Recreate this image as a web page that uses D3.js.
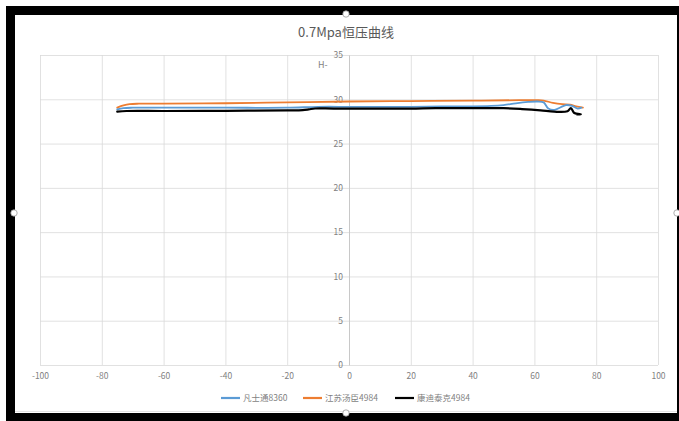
<!DOCTYPE html>
<html>
<head>
<meta charset="utf-8">
<script src="https://cdn.jsdelivr.net/npm/d3@7"></script>
<style>
  html, body { margin: 0; padding: 0; background: #ffffff; }
  svg { display: block; }
  text { font-family: "Noto Sans CJK SC", "Noto Sans", "DejaVu Sans", sans-serif; }
</style>
</head>
<body>
<svg id="chart" width="679" height="421"></svg>
<script>
// Chart title and series names
const chartTitle = "0.7Mpa恒压曲线";
const seriesNames = ["凡士通8360", "江苏汤臣4984", "康迪泰克4984"];
const seriesColors = ["#5B9BD5", "#ED7D31", "#000000"];

// Axis ticks
const xTicks = [-100, -80, -60, -40, -20, 0, 20, 40, 60, 80, 100];
const xTickLabels = ["-100", "-80", "-60", "-40", "-20", "0", "20", "40", "60", "80", "100"];
const yTicks = [0, 5, 10, 15, 20, 25, 30, 35];

// 凡士通8360
const blueX = [-75, -73, -70, -60, -40, -20, -10, 0, 10, 20, 30, 40, 46, 50, 54, 58, 61, 63, 64.5, 66.5, 68.5, 70.2, 72.2, 74, 75.2];
const blueY = [28.85, 29.0, 29.05, 29.05, 29.05, 29.05, 29.15, 29.15, 29.15, 29.15, 29.2, 29.2, 29.25, 29.35, 29.55, 29.7, 29.75, 29.65, 28.95, 28.8, 29.1, 29.35, 29.25, 28.95, 29.05];

// 江苏汤臣4984
const orangeX = [-75, -73, -71, -68, -60, -40, -20, 0, 20, 40, 55, 61, 63, 66, 69, 71.5, 73.5, 75.7];
const orangeY = [29.05, 29.3, 29.45, 29.5, 29.5, 29.55, 29.65, 29.75, 29.8, 29.85, 29.9, 29.9, 29.85, 29.6, 29.45, 29.4, 29.2, 29.05];

// 康迪泰克4984
const blackX = [-75, -72, -60, -40, -20, -15, -13, -11, -5, 10, 20, 28, 40, 50, 56, 62, 66.4, 70.7, 71.8, 72.9, 75, 73.8];
const blackY = [28.6, 28.68, 28.68, 28.7, 28.75, 28.78, 28.86, 28.96, 28.95, 28.95, 28.95, 29.0, 29.0, 29.0, 28.9, 28.75, 28.6, 28.65, 29.0, 28.45, 28.3, 28.3];

const seriesX = [blueX, orangeX, blackX];
const seriesY = [blueY, orangeY, blackY];

const svg = d3.select("#chart");
const W = 679, H = 421;

// Dark frame with white chart area inside
svg.append("rect").attr("x", 0).attr("y", 0).attr("width", W).attr("height", H).attr("fill", "#ffffff");
svg.append("rect").attr("x", 6).attr("y", 6).attr("width", W - 6).attr("height", H - 6).attr("fill", "#000000");
svg.append("rect").attr("x", 15).attr("y", 15).attr("width", 662).attr("height", 398).attr("fill", "#ffffff");
svg.append("line").attr("x1", 15).attr("x2", 677).attr("y1", 411.5).attr("y2", 411.5)
  .attr("stroke", "#e4e4e4").attr("stroke-width", 1);

const x = d3.scaleLinear().domain([-100, 100]).range([40, 658]);
const y = d3.scaleLinear().domain([0, 35]).range([365, 55]);

const gridColor = "#d9d9d9";
const labelColor = "#7f7f7f";

// Horizontal gridlines
const yGrid = svg.append("g").attr("transform", `translate(${x(-100)},0)`)
  .call(d3.axisLeft(y).tickValues(yTicks).tickSize(-(x(100) - x(-100))).tickFormat(""));
yGrid.select(".domain").remove();
yGrid.selectAll(".tick line").attr("stroke", gridColor).attr("stroke-width", 0.8);

// Vertical gridlines with bottom labels
const xAxis = svg.append("g").attr("transform", `translate(0,${y(0)})`)
  .call(d3.axisBottom(x).tickValues(xTicks).tickSize(-(y(0) - y(35))).tickPadding(8)
    .tickFormat((d, i) => xTickLabels[i]));
xAxis.select(".domain").remove();
xAxis.selectAll(".tick line").attr("stroke", gridColor).attr("stroke-width", 0.8);
xAxis.selectAll(".tick text").attr("fill", labelColor).attr("font-size", 8.5);

// Vertical value axis through x = 0
const yAxis = svg.append("g").attr("transform", `translate(${x(0)},0)`)
  .call(d3.axisLeft(y).tickValues(yTicks).tickSize(0).tickPadding(6));
yAxis.select(".domain").attr("stroke", "#c8c8c8").attr("stroke-width", 1);
yAxis.selectAll(".tick text").attr("fill", labelColor).attr("font-size", 8.5);

// Axis title fragment
svg.append("text").attr("x", 318).attr("y", 68).attr("fill", labelColor)
  .attr("font-size", 9).text("H-");

// Title
svg.append("text").attr("x", 346).attr("y", 37).attr("text-anchor", "middle")
  .attr("fill", "#595959").attr("font-size", 13).text(chartTitle);

// Series lines
const line = d3.line().x(d => x(d[0])).y(d => y(d[1])).curve(d3.curveCatmullRom.alpha(0.5));
const drawOrder = [1, 0, 2];
drawOrder.forEach(i => {
  const pts = seriesX[i].map((v, j) => [v, seriesY[i][j]]);
  svg.append("path").datum(pts).attr("d", line)
    .attr("fill", "none").attr("stroke", seriesColors[i])
    .attr("stroke-width", i === 2 ? 2.2 : 1.8).attr("stroke-linejoin", "round").attr("stroke-linecap", "round");
});

// Legend
const legendX = [221, 303, 395];
const legendY = 398;
seriesNames.forEach((name, i) => {
  const g = svg.append("g").attr("transform", `translate(${legendX[i]},${legendY})`);
  g.append("line").attr("x1", 0).attr("x2", 19).attr("y1", 0).attr("y2", 0)
    .attr("stroke", seriesColors[i]).attr("stroke-width", 2.2);
  g.append("text").attr("x", 22).attr("y", 3).attr("fill", labelColor)
    .attr("font-size", 8.5).text(name);
});

// Selection handles on the frame
[[346, 14], [346, 413], [14, 213], [677, 213]].forEach(p => {
  svg.append("circle").attr("cx", p[0]).attr("cy", p[1]).attr("r", 3.2)
    .attr("fill", "#ffffff").attr("stroke", "#9a9a9a").attr("stroke-width", 0.8);
});
</script>
</body>
</html>
